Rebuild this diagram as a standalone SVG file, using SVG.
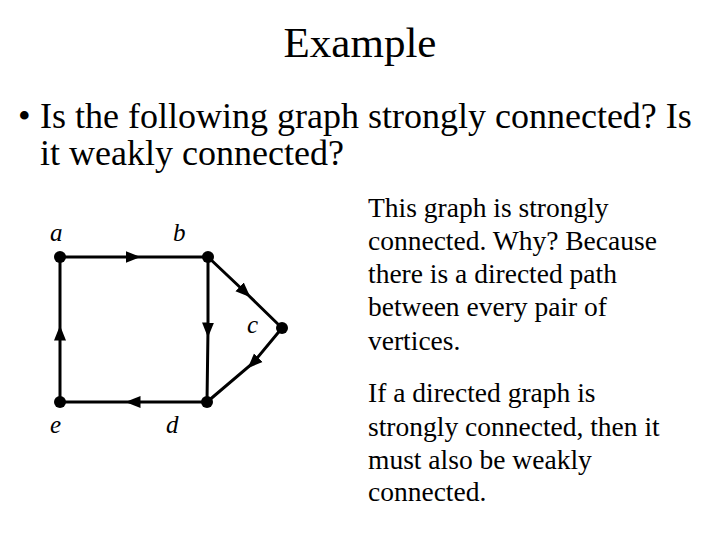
<svg xmlns="http://www.w3.org/2000/svg" width="720" height="540" viewBox="0 0 720 540">
<style>
text{font-family:"Liberation Serif",serif;fill:#000}
.t{font-size:27.5px}
.l{font-size:25px;font-style:italic}
.e{stroke:#000;stroke-width:3;fill:none}
</style>
<defs>
<marker id="ar" viewBox="0 0 10 10" refX="5" refY="5" markerWidth="5" markerHeight="5" orient="auto" markerUnits="strokeWidth"><path d="M0,1L10,5L0,9z" fill="#000"/></marker>
</defs>
<rect width="720" height="540" fill="#fff"/>
<text x="360" y="57" font-size="43" text-anchor="middle">Example</text>
<text x="18" y="128" font-size="36">•</text>
<text x="40" y="128" font-size="36">Is the following graph strongly connected? Is</text>
<text x="40" y="165" font-size="36">it weakly connected?</text>
<g id="connectors">
<polyline class="e" points="60,257 133,257 208,257" marker-mid="url(#ar)"/>
<polyline class="e" points="208,257 208,330 207,402" marker-mid="url(#ar)"/>
<polyline class="e" points="208,257 245,292 282,328" marker-mid="url(#ar)"/>
<polyline class="e" points="282,328 253,363 207,402" marker-mid="url(#ar)"/>
<polyline class="e" points="207,402 133,402 60,402" marker-mid="url(#ar)"/>
<polyline class="e" points="60,402 60,333 60,257" marker-mid="url(#ar)"/>
</g>
<g id="a"><circle cx="60" cy="257" r="6"/><text class="l" x="50" y="241">a</text></g>
<g id="b"><circle cx="208" cy="257" r="6"/><text class="l" x="173" y="241">b</text></g>
<g id="c"><circle cx="282" cy="328" r="6"/><text class="l" x="247" y="333">c</text></g>
<g id="d"><circle cx="207" cy="402" r="6"/><text class="l" x="166" y="433">d</text></g>
<g id="e"><circle cx="60" cy="402" r="6"/><text class="l" x="50" y="433">e</text></g>
<g class="t" xml:space="preserve">
<text x="368" y="217">This graph is strongly</text>
<text x="368" y="250">connected.  Why?    Because</text>
<text x="368" y="283">there is a directed path</text>
<text x="368" y="316">between every pair of</text>
<text x="368" y="350">vertices.</text>
<text x="368" y="402">If a directed graph is</text>
<text x="368" y="436">strongly connected, then it</text>
<text x="368" y="469">must also be weakly</text>
<text x="368" y="501">connected.</text>
</g>
</svg>
